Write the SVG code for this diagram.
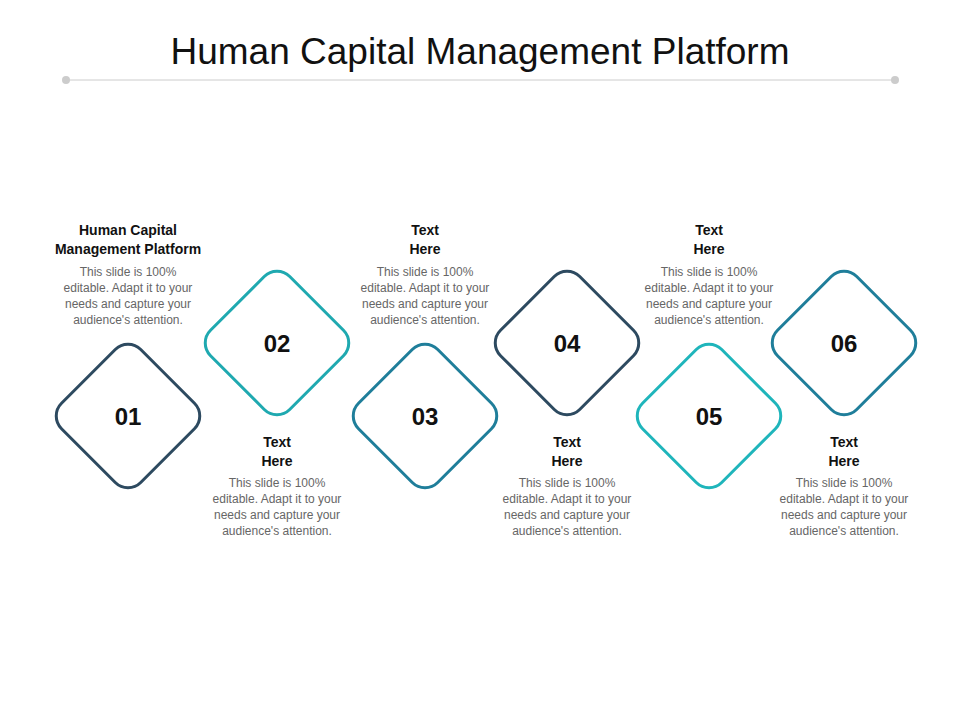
<svg xmlns="http://www.w3.org/2000/svg" width="960" height="720" viewBox="0 0 960 720">
<style>
.t{font-family:"Liberation Sans",Arial,sans-serif;text-anchor:middle}
.h{font-size:14px;font-weight:bold;fill:#111}
.b{font-size:12px;fill:#666}
.n{font-size:24px;font-weight:bold;fill:#111}
.d{fill:#fff;stroke-width:3}
</style>
<rect width="960" height="720" fill="#fff"/>
<text class="t" x="480" y="64" font-size="37" fill="#111">Human Capital Management Platform</text>
<g id="rule"><line x1="66" y1="80" x2="895" y2="80" stroke="#ccc" stroke-width="1"/><circle cx="66" cy="80" r="4" fill="#ccc"/><circle cx="895" cy="80" r="4" fill="#ccc"/></g>
<g id="n1"><rect class="d" stroke="#2d4a60" x="-56" y="-56" width="112" height="112" rx="18" transform="translate(128,416) rotate(45)"/><text class="t n" x="128" y="425">01</text>
<text class="t h" x="128" y="235">Human Capital</text><text class="t h" x="128" y="254">Management Platform</text>
<text class="t b"><tspan x="128" y="276">This slide is 100%</tspan><tspan x="128" y="292">editable. Adapt it to your</tspan><tspan x="128" y="308">needs and capture your</tspan><tspan x="128" y="324">audience's attention.</tspan></text></g>
<g id="n2"><rect class="d" stroke="#1fa9b0" x="-56" y="-56" width="112" height="112" rx="18" transform="translate(277,343) rotate(45)"/><text class="t n" x="277" y="352">02</text>
<text class="t h" x="277" y="447">Text</text><text class="t h" x="277" y="466">Here</text>
<text class="t b"><tspan x="277" y="487">This slide is 100%</tspan><tspan x="277" y="503">editable. Adapt it to your</tspan><tspan x="277" y="519">needs and capture your</tspan><tspan x="277" y="535">audience's attention.</tspan></text></g>
<g id="n3"><rect class="d" stroke="#1f7e9a" x="-56" y="-56" width="112" height="112" rx="18" transform="translate(425,416) rotate(45)"/><text class="t n" x="425" y="425">03</text>
<text class="t h" x="425" y="235">Text</text><text class="t h" x="425" y="254">Here</text>
<text class="t b"><tspan x="425" y="276">This slide is 100%</tspan><tspan x="425" y="292">editable. Adapt it to your</tspan><tspan x="425" y="308">needs and capture your</tspan><tspan x="425" y="324">audience's attention.</tspan></text></g>
<g id="n4"><rect class="d" stroke="#2d4a60" x="-56" y="-56" width="112" height="112" rx="18" transform="translate(567,343) rotate(45)"/><text class="t n" x="567" y="352">04</text>
<text class="t h" x="567" y="447">Text</text><text class="t h" x="567" y="466">Here</text>
<text class="t b"><tspan x="567" y="487">This slide is 100%</tspan><tspan x="567" y="503">editable. Adapt it to your</tspan><tspan x="567" y="519">needs and capture your</tspan><tspan x="567" y="535">audience's attention.</tspan></text></g>
<g id="n5"><rect class="d" stroke="#1fb5bb" x="-56" y="-56" width="112" height="112" rx="18" transform="translate(709,416) rotate(45)"/><text class="t n" x="709" y="425">05</text>
<text class="t h" x="709" y="235">Text</text><text class="t h" x="709" y="254">Here</text>
<text class="t b"><tspan x="709" y="276">This slide is 100%</tspan><tspan x="709" y="292">editable. Adapt it to your</tspan><tspan x="709" y="308">needs and capture your</tspan><tspan x="709" y="324">audience's attention.</tspan></text></g>
<g id="n6"><rect class="d" stroke="#1f7e9a" x="-56" y="-56" width="112" height="112" rx="18" transform="translate(844,343) rotate(45)"/><text class="t n" x="844" y="352">06</text>
<text class="t h" x="844" y="447">Text</text><text class="t h" x="844" y="466">Here</text>
<text class="t b"><tspan x="844" y="487">This slide is 100%</tspan><tspan x="844" y="503">editable. Adapt it to your</tspan><tspan x="844" y="519">needs and capture your</tspan><tspan x="844" y="535">audience's attention.</tspan></text></g>
<g id="connectors"></g>
</svg>
